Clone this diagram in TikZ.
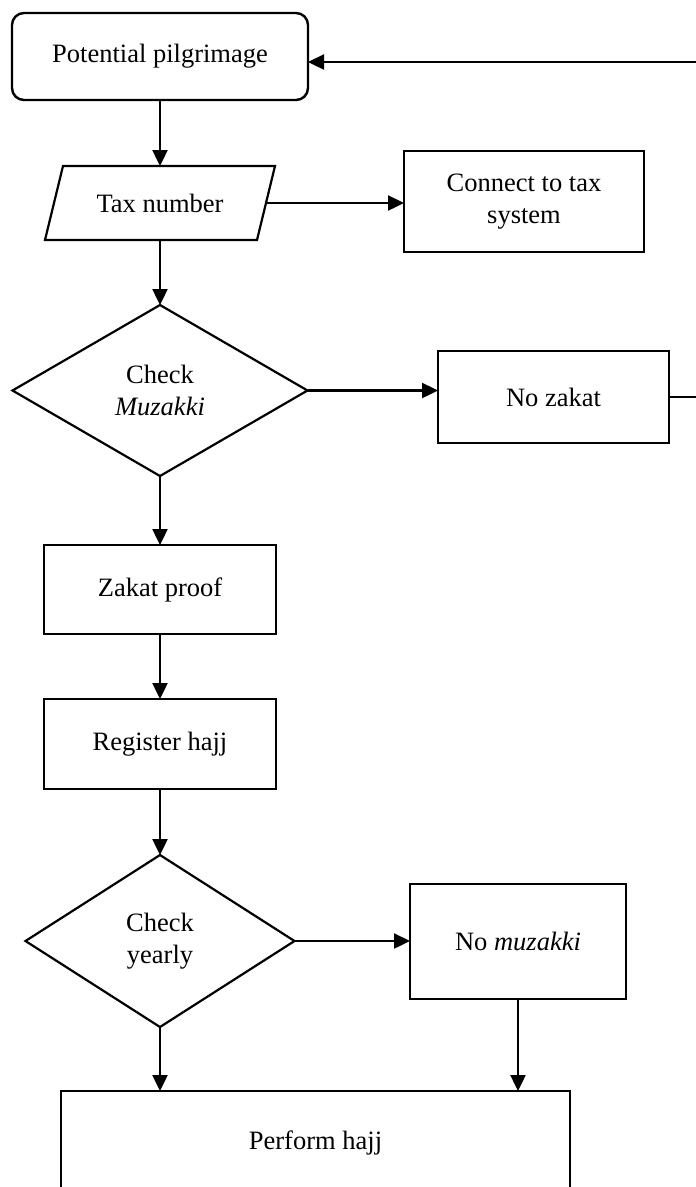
\documentclass[tikz,border=0pt]{standalone}
\usepackage{fontspec}
\setmainfont{Liberation Serif}
\usetikzlibrary{shapes.geometric,arrows.meta,calc}
\begin{document}
\begin{tikzpicture}[x=1pt,y=-1pt,
  every node/.style={font=\fontsize{26.5}{32}\selectfont, inner sep=0pt, outer sep=0pt, align=center},
  box/.style={draw, line width=2.4pt, rectangle},
  dia/.style={draw, diamond, line width=2.2pt},
  conn/.style={line width=2.4pt, -{Triangle[length=16pt,width=15pt]}}]
\useasboundingbox (0,0) rectangle (696,1187);
\fill[white] (0,0) rectangle (696,1187);

\node[box, rounded corners=12pt, minimum width=296pt, minimum height=87pt] (pp) at (160,56.5) {Potential pilgrimage};
\node[minimum width=212pt, minimum height=74pt] (tax) at (160,203) {Tax number};
\draw[line width=2.2pt] ($(tax.north west)+(9,0)$) -- ($(tax.north east)+(9,0)$) -- ($(tax.south east)+(-9,0)$) -- ($(tax.south west)+(-9,0)$) -- cycle;
\node[box, minimum width=240pt, minimum height=101pt] (ct) at (524,201.5) {Connect to tax\\system};
\node[dia, minimum width=295pt, minimum height=171pt] (d1) at (160,390.5) {Check\\\textit{Muzakki}};
\node[box, minimum width=231pt, minimum height=92pt] (nz) at (553.5,397) {No zakat};
\node[box, minimum width=232pt, minimum height=89pt] (zp) at (160,589.5) {Zakat proof};
\node[box, minimum width=232pt, minimum height=90pt] (rh) at (160,744) {Register hajj};
\node[dia, minimum width=269pt, minimum height=172pt] (d2) at (160,941) {Check\\yearly};
\node[box, minimum width=216pt, minimum height=115pt] (nm) at (518,941.5) {No \textit{muzakki}};
\node[box, minimum width=509pt, minimum height=104pt] (ph) at (315.5,1143) {Perform hajj};

\draw[conn] (pp.south) -- (tax.north);
\draw[conn] (tax.east) -- (tax.east -| ct.west);
\draw[conn] (tax.south) -- (d1.north);
\draw[conn] (d1.east) -- (d1.east -| nz.west);
\draw[conn] (d1.south) -- (zp.north);
\draw[conn] (zp.south) -- (rh.north);
\draw[conn] (rh.south) -- (d2.north);
\draw[conn] (d2.east) -- (d2.east -| nm.west);
\draw[conn] (d2.south) -- (d2.south |- ph.north);
\draw[conn] (nm.south) -- (nm.south |- ph.north);
\coordinate (fb) at (702,62);
\draw[conn] (nz.east) -| (fb) -- (fb -| pp.east);
\end{tikzpicture}
\end{document}
